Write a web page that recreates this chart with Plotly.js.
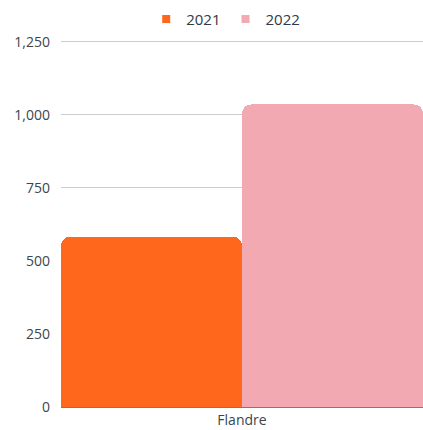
<!DOCTYPE html>
<html><head><meta charset="utf-8">
<script src="https://cdn.plot.ly/plotly-3.0.1.min.js"></script>
<style>html,body{margin:0;padding:0;background:#fff}#c{width:423px;height:430px}</style>
</head><body><div id="c"></div>
<script>
const categories = ["Flandre"];
const seriesNames = ["2021", "2022"];
const values2021 = [583];
const values2022 = [1036];
const colors = ["#FF671C", "#F2A9B2"];
const traces = [
  {type:"bar", name:seriesNames[0], x:categories, y:values2021, marker:{color:colors[0]}, showlegend:false, legendgroup:"a"},
  {type:"bar", name:seriesNames[1], x:categories, y:values2022, marker:{color:colors[1]}, showlegend:false, legendgroup:"b"},
  {type:"scatter", mode:"markers", name:seriesNames[0], x:[null], y:[null], marker:{symbol:"square", size:8, color:colors[0]}, legendgroup:"a"},
  {type:"scatter", mode:"markers", name:seriesNames[1], x:[null], y:[null], marker:{symbol:"square", size:8, color:colors[1]}, legendgroup:"b"}
];
const layout = {
  width:423, height:430,
  margin:{l:61, r:0, t:39, b:23, autoexpand:false},
  barmode:"group", bargap:0, bargroupgap:0, barcornerradius:9,
  font:{family:"Open Sans, sans-serif", size:13, color:"#3a4650"},
  showlegend:true,
  legend:{orientation:"h", x:0.455, xanchor:"center", y:1.054, yanchor:"middle", font:{size:15, color:"#2f3a44"}, itemwidth:20, tracegroupgap:0},
  xaxis:{showline:true, linecolor:"#6e7d88", linewidth:1, ticks:"", tickfont:{size:14, color:"#3a4650"}, fixedrange:true, automargin:false},
  yaxis:{range:[0,1260], tickvals:[0,250,500,750,1000,1250], tickformat:",d", gridcolor:"#cbced1", gridwidth:1, zeroline:false, ticks:"", ticklabelstandoff:10, tickfont:{size:14, color:"#3a4650"}, automargin:false},
  plot_bgcolor:"#fff", paper_bgcolor:"#fff"
};
Plotly.newPlot("c", traces, layout, {displayModeBar:false, staticPlot:true});
</script></body></html>
